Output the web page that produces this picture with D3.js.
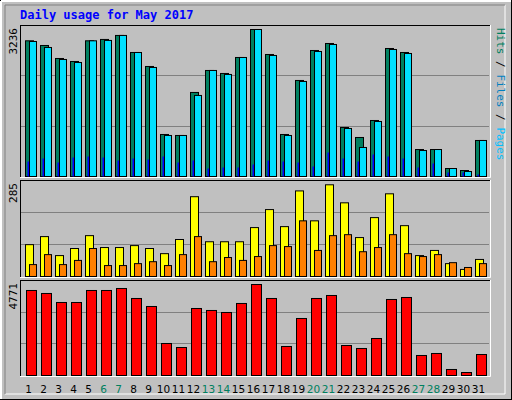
<!DOCTYPE html><html><head><script src="https://d3js.org/d3.v7.min.js"></script>
<style>body{margin:0;background:#fff}</style></head><body><script>
const days=d3.range(1,32);
const weekend=[6,7,13,14,20,21,27,28];
const hits=[2987,2884,2598,2532,2987,3017,3105,2730,2422,925,903,1850,2334,2268,2620,3236,2686,925,2114,2774,2928,1079,859,1233,2818,2730,594,594,176,132,793];
const files=[2972,2840,2576,2510,2987,2995,3105,2730,2400,903,903,1784,2334,2246,2620,3236,2664,903,2092,2752,2906,1057,639,1211,2796,2708,572,594,176,110,793];
const pages=[330,396,308,418,440,418,352,396,374,440,308,352,176,198,198,264,352,330,308,220,528,396,330,484,440,396,198,286,88,88,44];
const visits=[99,124,65,87,127,90,90,96,87,71,115,248,108,108,108,152,208,155,266,173,285,229,121,183,257,158,65,81,40,22,53];
const sites=[37,68,37,50,87,34,34,40,46,34,68,124,46,59,50,62,96,93,173,81,127,130,77,90,130,71,62,68,43,28,40];
const kbytes=[4457,4300,3828,3828,4457,4457,4562,4038,3618,1678,1468,3513,3409,3304,3776,4771,4038,1521,2989,4038,4195,1573,1416,1940,3985,4090,1049,1154,315,157,1101];
const maxLabels=["3236","285","4771"];
const svg=d3.select("body").append("svg").attr("width",512).attr("height",400);
svg.append("rect").attr("width",512).attr("height",400).attr("fill","#000");
svg.append("rect").attr("x",1).attr("y",1).attr("width",510).attr("height",398).attr("fill","#c0c0c0");
svg.append("path").attr("d","M1,1H511M1,1V399").attr("stroke","#fff").attr("stroke-width",2);
svg.append("path").attr("d","M505,5V394H5").attr("stroke","#fff").attr("stroke-width",1).attr("fill","none");
svg.append("path").attr("d","M5,394V5H505").attr("stroke","#808080").attr("stroke-width",1).attr("fill","none");
svg.append("text").attr("x",20).attr("y",19).text("Daily usage for May 2017").attr("font-family","DejaVu Sans Mono").attr("font-weight","bold").attr("font-size",12).attr("fill","#0000ff");
const x=d3.scaleBand().domain(days).range([20,485]);
const panels=[{t:25,b:176,max:3236},{t:180,b:276,max:285},{t:280,b:375,max:4771}];
panels.forEach((p,i)=>{
  svg.append("rect").attr("x",20).attr("y",p.t).attr("width",470).attr("height",p.b-p.t+1).attr("fill","#c0c0c0");
  const h=p.b-p.t;
  [1,2].forEach(k=>svg.append("line").attr("x1",21).attr("x2",489).attr("y1",Math.round(p.b-h*k/3)+.5).attr("y2",Math.round(p.b-h*k/3)+.5).attr("stroke","#808080"));
  svg.append("path").attr("d",`M20.5,${p.b+1}V${p.t+.5}`).attr("stroke","#000");
  svg.append("path").attr("d",`M20,${p.b+1.5}H490.5V${p.t}`).attr("stroke","#fff").attr("fill","none");
  svg.append("path").attr("d",`M20,${p.t+.5}H490`).attr("stroke","#000");
  svg.append("text").attr("transform",`translate(${17},${p.t+3}) rotate(-90)`).attr("text-anchor","end").text(maxLabels[i]).attr("font-family","DejaVu Sans Mono").attr("font-size",11).attr("fill","#000");
});
const yT=d3.scaleLinear().domain([0,3236]).range([176,29]);
const yM=d3.scaleLinear().domain([0,285]).range([276,184.3]);
const yB=d3.scaleLinear().domain([0,4771]).range([375,284]);
function bars(data,y,dx,w,fill,stroke=true){
  svg.append("g").selectAll("rect").data(data).join("rect")
   .attr("x",(d,i)=>x(days[i])+dx+.5).attr("y",d=>y(d)+.5).attr("width",w).attr("height",d=>Math.max(0,y(0)-y(d)))
   .attr("fill",fill).attr("stroke",stroke?"#000":"none");
}
bars(hits,yT,5,8,"#008060");
bars(files,yT,9,7,"#00e0ff");
bars(pages,yT,7,1.5,"#0000ff",false);
bars(visits,yM,5,8,"#ffff00");
bars(sites,yM,9,7,"#ff8000");
bars(kbytes,yB,6,10,"#ff0000");
svg.append("g").selectAll("text").data(days).join("text").attr("x",d=>x(d)+8.5).attr("y",393).attr("text-anchor","middle")
 .text(d=>d).attr("font-family","DejaVu Sans").attr("font-size",10.5).attr("fill",d=>weekend.includes(d)?"#00805f":"#000");
function rlab(y,parts){
  const t=svg.append("text").attr("transform",`translate(497,${y}) rotate(90)`).attr("font-family","DejaVu Sans Mono").attr("font-size",11);
  parts.forEach(([s,c])=>t.append("tspan").text(s).attr("fill",c));
}
rlab(28,[["Hits","#00805f"],[" / ","#000"],["Files","#0080c0"],[" / ","#000"],["Pages","#00c0ff"]].reverse().map(a=>a)&&[["Pages","#00c0ff"],[" / ","#000"],["Files","#0080c0"],[" / ","#000"],["Hits","#00805f"]].slice().reverse());
</script></body></html>
